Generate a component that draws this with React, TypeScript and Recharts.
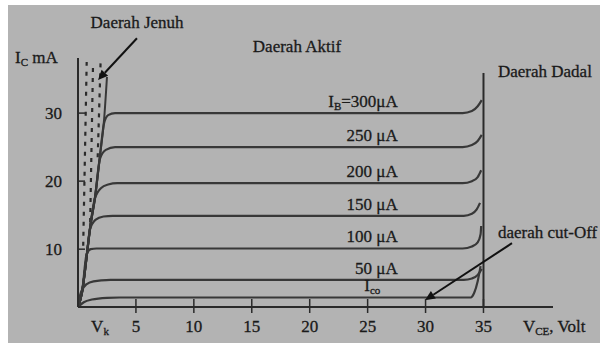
import React from 'react';
import { LineChart, Line, XAxis, YAxis, ReferenceLine, ReferenceDot } from 'recharts';

type Pt = { v: number; i: number };

// karakteristik output transistor: V_CE (volt) vs I_C (mA)
const ib300: Pt[] = [
  { v: 0, i: 1.5 }, { v: 0.35, i: 3.7 }, { v: 0.78, i: 9.4 }, { v: 1.04, i: 13.1 }, { v: 1.47, i: 17.6 },
  { v: 1.9, i: 23.8 }, { v: 2.25, i: 28.5 }, { v: 2.6, i: 29.7 }, { v: 3.2, i: 30 }, { v: 33.2, i: 30 },
  { v: 34.0, i: 30.3 }, { v: 34.5, i: 31 }, { v: 34.85, i: 31.9 },
];
const ib250: Pt[] = [
  { v: 0, i: 1.5 }, { v: 0.35, i: 3.7 }, { v: 0.78, i: 9.4 }, { v: 1.04, i: 13.1 }, { v: 1.47, i: 17.6 },
  { v: 1.9, i: 23.3 }, { v: 2.4, i: 24.6 }, { v: 3.2, i: 25 }, { v: 33.2, i: 25 },
  { v: 34.0, i: 25.3 }, { v: 34.5, i: 25.9 }, { v: 34.85, i: 26.8 },
];
const ib200: Pt[] = [
  { v: 0, i: 1.5 }, { v: 0.35, i: 3.7 }, { v: 0.78, i: 9.4 }, { v: 1.04, i: 13.1 }, { v: 1.45, i: 17.4 },
  { v: 2.0, i: 19.0 }, { v: 2.6, i: 19.5 }, { v: 3.4, i: 19.7 }, { v: 33.2, i: 19.7 },
  { v: 34.0, i: 20.0 }, { v: 34.5, i: 20.6 }, { v: 34.8, i: 21.6 },
];
const ib150: Pt[] = [
  { v: 0, i: 1.5 }, { v: 0.35, i: 3.7 }, { v: 0.78, i: 9.4 }, { v: 1.02, i: 12.8 },
  { v: 1.5, i: 14.3 }, { v: 2.2, i: 14.8 }, { v: 3.0, i: 14.9 }, { v: 33.3, i: 14.9 },
  { v: 34.0, i: 15.2 }, { v: 34.4, i: 15.8 }, { v: 34.7, i: 16.8 },
];
const ib100: Pt[] = [
  { v: 0, i: 1.5 }, { v: 0.35, i: 3.7 }, { v: 0.75, i: 9.3 }, { v: 1.1, i: 10.0 }, { v: 1.6, i: 10.1 },
  { v: 33.2, i: 10.1 }, { v: 34.0, i: 10.4 }, { v: 34.5, i: 11.0 }, { v: 34.75, i: 12.2 }, { v: 34.8, i: 13.4 },
];
const ib50: Pt[] = [
  { v: 0, i: 1.5 }, { v: 0.17, i: 3.2 }, { v: 0.5, i: 4.4 }, { v: 1.0, i: 5.1 }, { v: 2.0, i: 5.4 },
  { v: 2.8, i: 5.5 }, { v: 33.3, i: 5.5 }, { v: 34.0, i: 5.7 }, { v: 34.5, i: 6.2 }, { v: 34.85, i: 7.1 },
];
const ico: Pt[] = [
  { v: 0, i: 1.5 }, { v: 0.5, i: 2.2 }, { v: 1.2, i: 2.6 }, { v: 2.5, i: 2.85 }, { v: 3.6, i: 2.9 },
  { v: 33.9, i: 2.9 }, { v: 34.2, i: 3.6 }, { v: 34.5, i: 5.3 }, { v: 34.75, i: 7.5 },
];

// garis batas jenuh dan garis dadal
const satLine: Pt[] = [
  { v: 0, i: 1.5 }, { v: 0.35, i: 3.7 }, { v: 0.78, i: 9.4 }, { v: 1.04, i: 13.1 }, { v: 1.47, i: 17.6 },
  { v: 1.9, i: 23.8 }, { v: 2.25, i: 29 }, { v: 2.5, i: 35.3 },
];
const breakdown: Pt[] = [{ v: 35, i: 1.5 }, { v: 35, i: 35.9 }];

// arsiran daerah jenuh (titik-titik)
const dots1: Pt[] = [{ v: 0.45, i: 10.5 }, { v: 0.75, i: 37.5 }];
const dots2: Pt[] = [{ v: 1.05, i: 14 }, { v: 1.3, i: 37.5 }];
const dots3: Pt[] = [{ v: 1.7, i: 23.5 }, { v: 1.95, i: 37.5 }];

const curves = [ib300, ib250, ib200, ib150, ib100, ib50, ico];
const levels = [30, 25, 19.7, 14.9, 10.1, 5.5, 2.9];
const curveLabels = [
  ['I', 'B', '=300μA'], ['', '', '250 μA'], ['', '', '200 μA'], ['', '', '150 μA'],
  ['', '', '100 μA'], ['', '', '50 μA'], ['I', 'co', ''],
];
const xTicks = [5, 10, 15, 20, 25, 30, 35];
const yTicks = [10, 20, 30];

const FONT = '"Liberation Serif", "Times New Roman", serif';
const INK = '#2a2a2a';
const CURVE = '#383838';
const TXT = '#1a1a1a';
const FS = 17;

const XTick = (p: any) => {
  const { x, y, payload } = p;
  return (
    <g>
      <line x1={x} x2={x} y1={y - 8} y2={y + 6} stroke={INK} strokeWidth={1.5} />
      <text x={x} y={y + 25} textAnchor="middle" fontSize={FS} fill={TXT} stroke={TXT} strokeWidth={0.3} fontFamily={FONT}>{payload.value}</text>
    </g>
  );
};

const YTick = (p: any) => {
  const { x, y, payload } = p;
  return (
    <g>
      <line x1={x} x2={x + 7} y1={y} y2={y} stroke={INK} strokeWidth={1.5} />
      <text x={x - 16} y={y + 6} textAnchor="end" fontSize={FS} fill={TXT} stroke={TXT} strokeWidth={0.3} fontFamily={FONT}>{payload.value}</text>
    </g>
  );
};

// teks dengan subskrip: [utama, subskrip, sisa]
const Sub = ({ x, y, parts, anchor = 'start', size = FS }: { x: number; y: number; parts: string[]; anchor?: string; size?: number }) => (
  <text x={x} y={y} textAnchor={anchor as any} fontSize={size} fill={TXT} stroke={TXT} strokeWidth={0.3} fontFamily={FONT}>
    {parts[0] && <tspan>{parts[0]}</tspan>}
    {parts[1] && <tspan fontSize={size * 0.65} dy={3}>{parts[1]}</tspan>}
    {parts[2] && <tspan dy={parts[1] ? -3 : 0}>{parts[2]}</tspan>}
  </text>
);

const notes = [
  { v: 5.1, i: 42.5, parts: ['Daerah Jenuh', '', ''], anchor: 'middle' },
  { v: 18.9, i: 38.97, parts: ['Daerah Aktif', '', ''], anchor: 'middle' },
  { v: 36.25, i: 35.3, parts: ['Daerah Dadal', '', ''], anchor: 'start' },
  { v: 36.25, i: 11.6, parts: ['daerah cut-Off', '', ''], anchor: 'start' },
  { v: -5.44, i: 37.35, parts: ['I', 'C', ' mA'], anchor: 'start' },
  { v: 1.9, i: -2.2, parts: ['V', 'k', ''], anchor: 'middle' },
  { v: 38.4, i: -2.2, parts: ['V', 'CE', ', Volt'], anchor: 'start' },
];

const arrows = [
  [{ x: 5.09, y: 41.0 }, { x: 1.73, y: 34.85 }],
  [{ x: 37.46, y: 10.88 }, { x: 29.95, y: 2.5 }],
];

const Arrow = (p: any) => {
  const { x1, y1, x2, y2 } = p;
  const a = Math.atan2(y2 - y1, x2 - x1);
  const L = 10, W = 4.5;
  const bx = x2 - L * Math.cos(a), by = y2 - L * Math.sin(a);
  const nx = -Math.sin(a) * W, ny = Math.cos(a) * W;
  return (
    <g>
      <line x1={x1} y1={y1} x2={bx} y2={by} stroke="#111" strokeWidth={2} />
      <polygon points={`${x2},${y2} ${bx + nx},${by + ny} ${bx - nx},${by - ny}`} fill="#111" />
    </g>
  );
};

export default function App() {
  return (
    <div style={{ position: 'absolute', left: 0, top: 0, width: 600, height: 343, background: '#ffffff', overflow: 'hidden' }}>
      <div style={{ position: 'absolute', left: 8, top: 5, right: 0, bottom: 0, background: '#b3b3b3' }} />
      <div style={{ position: 'absolute', left: 0, top: 0 }}>
        <LineChart width={600} height={343} margin={{ top: 58, right: 47, bottom: 0, left: 0 }}>
          <XAxis
            type="number" dataKey="v" domain={[0, 41]} allowDataOverflow ticks={xTicks} height={36}
            tick={XTick} tickLine={false} tickSize={0} tickMargin={0}
            axisLine={{ stroke: INK, strokeWidth: 2 }}
          />
          <YAxis
            type="number" dataKey="i" domain={[1.5, 38.1]} allowDataOverflow ticks={yTicks} width={78}
            tick={YTick} tickLine={false} tickSize={0} tickMargin={0}
            axisLine={{ stroke: INK, strokeWidth: 2 }}
          />
          {[dots1, dots2, dots3].map((d, k) => (
            <Line key={'d' + k} data={d} dataKey="i" type="linear" stroke="#2a2a2a" strokeWidth={2.2}
              strokeDasharray="4 6" dot={false} activeDot={false} isAnimationActive={false} />
          ))}
          <Line data={satLine} dataKey="i" type="monotone" stroke={CURVE} strokeWidth={2} dot={false} activeDot={false} isAnimationActive={false} />
          <Line data={breakdown} dataKey="i" type="linear" stroke={INK} strokeWidth={2} dot={false} activeDot={false} isAnimationActive={false} />
          {curves.map((d, k) => (
            <Line key={'c' + k} data={d} dataKey="i" type="monotone" stroke={CURVE} strokeWidth={2.2}
              dot={false} activeDot={false} isAnimationActive={false} />
          ))}
          {levels.map((lv, k) => (
            <ReferenceDot key={'l' + k} x={k === 6 ? 25.4 : 27.6} y={lv} r={0} ifOverflow="visible"
              shape={(p: any) => <Sub x={p.cx} y={p.cy - 6} parts={curveLabels[k]} anchor={k === 6 ? 'middle' : 'end'} />} />
          ))}
          {notes.map((n, k) => (
            <ReferenceDot key={'n' + k} x={n.v} y={n.i} r={0} ifOverflow="visible"
              shape={(p: any) => <Sub x={p.cx} y={p.cy} parts={n.parts} anchor={n.anchor} />} />
          ))}
          {arrows.map((seg, k) => (
            <ReferenceLine key={'a' + k} segment={seg} ifOverflow="visible" shape={Arrow} />
          ))}
        </LineChart>
      </div>
    </div>
  );
}
